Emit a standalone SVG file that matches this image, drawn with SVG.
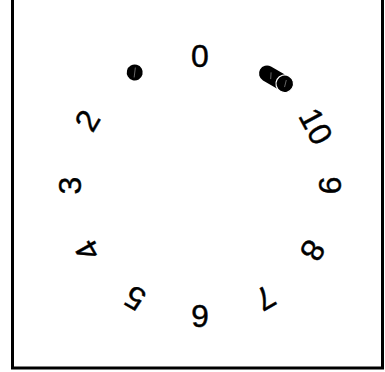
<svg xmlns="http://www.w3.org/2000/svg" width="385" height="372" viewBox="0 0 385 372">
  <style>
    .lbl { font-family: "Liberation Sans", Arial, sans-serif; font-size: 32px; fill: #000; stroke: #000; stroke-width: 0.4; text-anchor: middle; }
    .hatch { stroke: #999; stroke-width: 0.6; fill: none; }
  </style>
  <rect x="0" y="0" width="385" height="372" fill="#fff"/>
  <rect id="frame" x="12.5" y="-10" width="370" height="378" fill="none" stroke="#000" stroke-width="3"/>
  <g id="dial">
    <g id="label-0"><text class="lbl" x="200" y="66.5" transform="rotate(0 200 185.5)">0</text></g>
    <g id="dot-1" transform="rotate(-30 200 185.5)">
      <circle cx="200" cy="55" r="8" fill="#000"/>
      <line class="hatch" x1="197" y1="59" x2="203" y2="51"/>
    </g>
    <g id="label-2"><text class="lbl" x="200" y="66.5" transform="rotate(-60 200 185.5)">2</text></g>
    <g id="label-3"><text class="lbl" x="200" y="66.5" transform="rotate(-90 200 185.5)">3</text></g>
    <g id="label-4"><text class="lbl" x="200" y="66.5" transform="rotate(-120 200 185.5)">4</text></g>
    <g id="label-5"><text class="lbl" x="200" y="66.5" transform="rotate(-150 200 185.5)">5</text></g>
    <g id="label-6"><text class="lbl" x="200" y="66.5" transform="rotate(180 200 185.5)">6</text></g>
    <g id="label-7"><text class="lbl" x="200" y="66.5" transform="rotate(150 200 185.5)">7</text></g>
    <g id="label-8"><text class="lbl" x="200" y="66.5" transform="rotate(120 200 185.5)">8</text></g>
    <g id="label-9"><text class="lbl" x="200" y="66.5" transform="rotate(90 200 185.5)">9</text></g>
    <g id="label-10"><text class="lbl" x="202" y="66.5" transform="rotate(62 200 185.5)">10</text></g>
    <g id="dot-11" transform="rotate(30 200 185.5)">
      <path d="M202,47 H218 V63 H202 A8,8 0 0 1 202,47 Z" fill="#000"/>
      <circle cx="222.5" cy="55" r="8.8" fill="#000" stroke="#fff" stroke-width="1.2"/>
      <line class="hatch" x1="205" y1="52" x2="208" y2="58"/>
      <line class="hatch" x1="222" y1="51" x2="224" y2="58"/>
    </g>
  </g>
</svg>
